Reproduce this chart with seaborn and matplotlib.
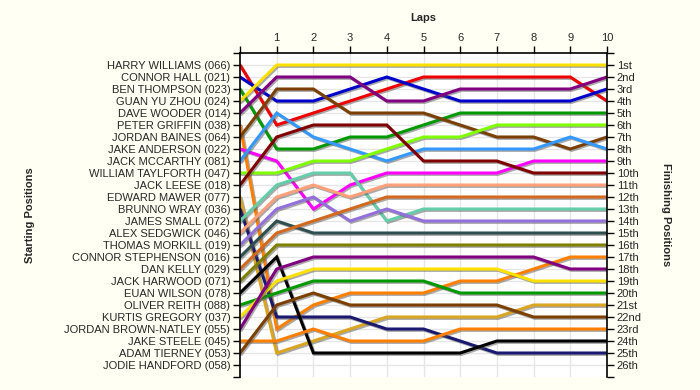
import pandas as pd
import matplotlib
matplotlib.use('Agg')
import matplotlib.pyplot as plt
import matplotlib.patheffects as pe
import seaborn as sns

# drivers in starting order (grid position 1..26)
drivers = ['HARRY WILLIAMS (066)', 'CONNOR HALL (021)', 'BEN THOMPSON (023)', 'GUAN YU ZHOU (024)',
           'DAVE WOODER (014)', 'PETER GRIFFIN (038)', 'JORDAN BAINES (064)', 'JAKE ANDERSON (022)',
           'JACK MCCARTHY (081)', 'WILLIAM TAYLFORTH (047)', 'JACK LEESE (018)', 'EDWARD MAWER (077)',
           'BRUNNO WRAY (036)', 'JAMES SMALL (072)', 'ALEX SEDGWICK (046)', 'THOMAS MORKILL (019)',
           'CONNOR STEPHENSON (016)', 'DAN KELLY (029)', 'JACK HARWOOD (071)', 'EUAN WILSON (078)',
           'OLIVER REITH (088)', 'KURTIS GREGORY (037)', 'JORDAN BROWN-NATLEY (055)', 'JAKE STEELE (045)',
           'ADAM TIERNEY (053)', 'JODIE HANDFORD (058)']

laps = list(range(0, 11))

# position at lap 0..10 for each driver (JODIE HANDFORD has no laps)
positions = [
    [1, 6, 5, 4, 3, 2, 2, 2, 2, 2, 4],
    [2, 4, 4, 3, 2, 3, 4, 4, 4, 4, 3],
    [3, 8, 8, 7, 7, 6, 5, 5, 5, 5, 5],
    [4, 1, 1, 1, 1, 1, 1, 1, 1, 1, 1],
    [5, 2, 2, 2, 4, 4, 3, 3, 3, 3, 2],
    [6, 23, 21, 20, 20, 20, 19, 19, 18, 17, 17],
    [7, 3, 3, 5, 5, 5, 6, 7, 7, 8, 7],
    [8, 9, 13, 11, 10, 10, 10, 10, 9, 9, 9],
    [9, 5, 7, 8, 9, 8, 8, 8, 8, 7, 8],
    [10, 10, 9, 9, 8, 7, 7, 6, 6, 6, 6],
    [11, 7, 6, 6, 6, 9, 9, 9, 10, 10, 10],
    [12, 25, 24, 23, 22, 22, 22, 22, 21, 21, 21],
    [13, 22, 22, 22, 23, 23, 24, 25, 25, 25, 25],
    [14, 11, 10, 10, 14, 13, 13, 13, 13, 13, 13],
    [15, 12, 11, 12, 11, 11, 11, 11, 11, 11, 11],
    [16, 13, 12, 14, 13, 14, 14, 14, 14, 14, 14],
    [17, 14, 15, 15, 15, 15, 15, 15, 15, 15, 15],
    [18, 15, 14, 13, 12, 12, 12, 12, 12, 12, 12],
    [19, 16, 16, 16, 16, 16, 16, 16, 16, 16, 16],
    [20, 17, 25, 25, 25, 25, 25, 24, 24, 24, 24],
    [21, 20, 19, 19, 19, 19, 20, 20, 20, 20, 20],
    [22, 19, 18, 18, 18, 18, 18, 18, 19, 19, 19],
    [23, 18, 17, 17, 17, 17, 17, 17, 17, 18, 18],
    [24, 24, 23, 24, 24, 24, 23, 23, 23, 23, 23],
    [25, 21, 20, 21, 21, 21, 21, 21, 22, 22, 22],
    [],
]

colors = ['#EE0000', '#0000CC', '#009900', '#FFE000', '#800080', '#FF8000', '#7B3F00',
          '#FF00FF', '#3399FF', '#80FF00', '#800000', '#DAA520', '#191970', '#66CDAA',
          '#FFA07A', '#9370DB', '#2F4F4F', '#D2691E', '#808000', '#000000', '#009900',
          '#FFE000', '#800080', '#FF8000', '#7B3F00', '#888888']

finish_labels = ['1st', '2nd', '3rd', '4th', '5th', '6th', '7th', '8th', '9th', '10th', '11th',
                 '12th', '13th', '14th', '15th', '16th', '17th', '18th', '19th', '20th', '21st',
                 '22nd', '23rd', '24th', '25th', '26th']

# long format table
rows = []
for d, pos in zip(drivers, positions):
    for lap, p in zip(laps, pos):
        rows.append({'driver': d, 'lap': lap, 'pos': p})
df = pd.DataFrame(rows)
palette = {d: c for d, c in zip(drivers, colors)}

sns.set_style('white')
plt.rcParams['font.family'] = ['Liberation Sans', 'DejaVu Sans']

fig = plt.figure(figsize=(7, 3.9), dpi=100, facecolor='#FFFFF3')
ax = fig.add_axes([240 / 700, 1 - 377 / 390, 367 / 700, 324 / 390])
ax.set_facecolor('white')

sns.lineplot(data=df, x='lap', y='pos', hue='driver', hue_order=[d for d, p in zip(drivers, positions) if p],
             palette=palette, linewidth=2.2, legend=False, ax=ax, estimator=None, sort=False)
for line in ax.get_lines():
    line.set_path_effects([pe.SimpleLineShadow(offset=(1, -1), shadow_color='#555555', alpha=0.5),
                           pe.Normal()])
    line.set_solid_joinstyle('miter')

ax.set_xlim(0, 10)
ax.set_ylim(27, 0)

# grid
for x in range(1, 11):
    ax.axvline(x, color='#E6E6E6', lw=1, zorder=0)
for y in range(1, 27):
    ax.axhline(y, color='#E6E6E6', lw=1, zorder=0)

# top axis: laps
ax.xaxis.tick_top()
ax.set_xticks(range(0, 11))
ax.set_xticklabels([''] + [str(i) for i in range(1, 11)], fontsize=8)
ax.set_xlabel('')
ax.set_ylabel('')

# left axis: starting positions
ax.set_yticks(range(0, 28))
ax.set_yticklabels([''] + drivers + [''], fontsize=8)
ax.tick_params(axis='both', direction='out', length=5, width=1, color='black', pad=2)

# right axis: finishing positions
ax2 = ax.twinx()
ax2.set_ylim(27, 0)
ax2.set_yticks(range(0, 28))
ax2.set_yticklabels([''] + finish_labels + [''], fontsize=8)
ax2.tick_params(axis='y', direction='out', length=5, width=1, color='black', pad=2)

for a in (ax, ax2):
    for s in a.spines.values():
        s.set_visible(False)
ax.spines['left'].set_visible(True)
ax.spines['top'].set_visible(True)
ax2.spines['right'].set_visible(True)
for s in (ax.spines['left'], ax.spines['top'], ax2.spines['right']):
    s.set_color('black')
    s.set_linewidth(1.2)

fig.text(423 / 700, 1 - 18 / 390, 'Laps', ha='center', va='center', fontsize=8, fontweight='bold')
fig.text(30 / 700, 1 - 215 / 390, 'Starting Positions', ha='center', va='center', rotation=90,
         fontsize=8, fontweight='bold')
fig.text(666 / 700, 1 - 215 / 390, 'Finishing Positions', ha='center', va='center', rotation=-90,
         fontsize=8, fontweight='bold')

fig.savefig('out.png', dpi=100, facecolor=fig.get_facecolor())
